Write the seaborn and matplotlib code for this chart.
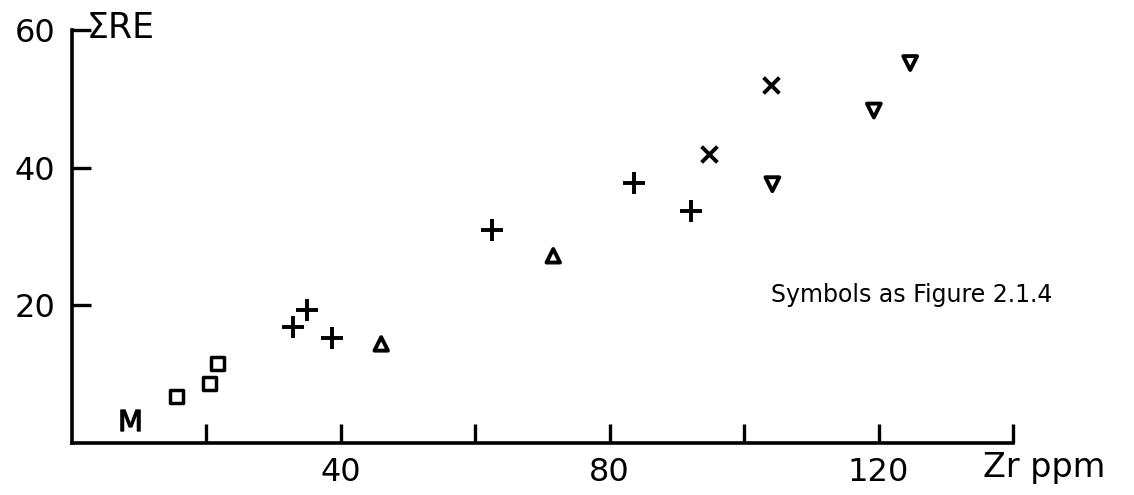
import matplotlib
matplotlib.use("Agg")
import matplotlib.pyplot as plt
import seaborn as sns
import pandas as pd

# ---- data ----
m_x = [8.6]
m_y = [3.3]
square_x = [15.5, 20.5, 21.6]
square_y = [6.8, 8.7, 11.5]
plus_x = [32.9, 35.0, 38.7, 62.5, 83.6, 92.1]
plus_y = [16.9, 19.3, 15.3, 31.0, 37.8, 33.7]
tri_up_x = [46.0, 71.6]
tri_up_y = [14.4, 27.2]
cross_x = [94.8, 104.0]
cross_y = [42.0, 52.0]
tri_down_x = [104.2, 119.3, 124.7]
tri_down_y = [37.6, 48.3, 55.2]

x_ticks = [20, 40, 60, 80, 100, 120, 140]
x_tick_labels = ["", "40", "", "80", "", "120", ""]
y_ticks = [20, 40, 60]
y_tick_labels = ["20", "40", "60"]

x_label = "Zr ppm"
y_label = "ΣRE"
note = "Symbols as Figure 2.1.4"

sns.set_theme(style="ticks")
plt.rcParams["font.family"] = ["DejaVu Sans"]

fig = plt.figure(figsize=(11.34, 4.95), dpi=100)
ax = fig.add_axes([72 / 1134, (495 - 443) / 495, (1013 - 72) / 1134, (443 - 30) / 495])

ink = "black"

def draw(xs, ys, marker, size, lw, filled_none=True):
    df = pd.DataFrame({"x": xs, "y": ys})
    kw = dict(data=df, x="x", y="y", marker=marker, s=size, ax=ax, legend=False, zorder=3)
    if filled_none:
        sns.scatterplot(**kw, facecolor="none", edgecolor=ink, linewidth=lw)
    else:
        sns.scatterplot(**kw, color=ink, edgecolor=ink, linewidth=lw)

draw(m_x, m_y, "$\\mathsf{M}$", 230, 0.9, filled_none=False)
draw(square_x, square_y, "s", 85, 2.5)
draw(plus_x, plus_y, "+", 240, 2.8, filled_none=False)
draw(tri_up_x, tri_up_y, "^", 95, 2.8)
draw(cross_x, cross_y, "x", 130, 2.8, filled_none=False)
draw(tri_down_x, tri_down_y, "v", 100, 2.8)

ax.set_xlim(0, 140)
ax.set_ylim(0, 60)
ax.set_xticks(x_ticks)
ax.set_xticklabels(x_tick_labels)
ax.set_yticks(y_ticks)
ax.set_yticklabels(y_tick_labels)
ax.set_xlabel("")
ax.set_ylabel("")
sns.despine(ax=ax)
for side in ["left", "bottom"]:
    ax.spines[side].set_linewidth(2.6)
    ax.spines[side].set_color(ink)
ax.tick_params(axis="both", direction="in", length=14, width=2.4, colors=ink,
               labelsize=23)
ax.tick_params(axis="x", pad=10)
ax.tick_params(axis="y", pad=12)

ax.text(2.2, 60.3, y_label, fontsize=25, va="center", ha="left", color=ink, clip_on=False)
ax.text(135.5, -5.0, x_label, fontsize=24, va="baseline", ha="left", color=ink, clip_on=False)
ax.text(104, 21.5, note, fontsize=17, va="center", ha="left", color=ink)

fig.savefig("out.png", dpi=100)
